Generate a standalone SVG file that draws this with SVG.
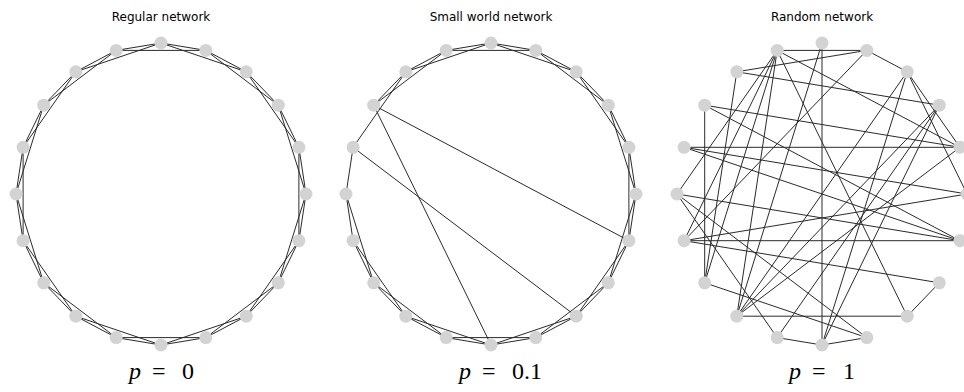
<svg xmlns="http://www.w3.org/2000/svg" width="964" height="392" viewBox="0 0 964 392">
<style>
.t{font-family:"DejaVu Sans",sans-serif;font-size:12px;fill:#000;text-anchor:middle}
.m{font-family:"Liberation Serif","DejaVu Serif",serif;font-size:24px;fill:#000}
.e line{stroke:#2a2a2a;stroke-width:1}
.n circle{fill:#d3d3d3}
</style>
<rect width="964" height="392" fill="#fff"/>
<text class="t" x="161" y="21">Regular network</text>
<text class="t" x="491" y="21">Small world network</text>
<text class="t" x="822" y="21">Random network</text>
<text class="m" y="379"><tspan x="129" font-style="italic">p</tspan><tspan x="152">=</tspan><tspan x="182">0</tspan></text>
<text class="m" y="379"><tspan x="459" font-style="italic">p</tspan><tspan x="482">=</tspan><tspan x="512">0.1</tspan></text>
<text class="m" y="379"><tspan x="789" font-style="italic">p</tspan><tspan x="812">=</tspan><tspan x="843">1</tspan></text>

<g id="connectors" class="e">
<g id="edges-regular">
<line x1="306" y1="194" x2="298.9" y2="147.3"/>
<line x1="298.9" y1="147.3" x2="278.3" y2="105.2"/>
<line x1="278.3" y1="105.2" x2="246.2" y2="71.8"/>
<line x1="246.2" y1="71.8" x2="205.8" y2="50.4"/>
<line x1="205.8" y1="50.4" x2="161" y2="43"/>
<line x1="161" y1="43" x2="116.2" y2="50.4"/>
<line x1="116.2" y1="50.4" x2="75.8" y2="71.8"/>
<line x1="75.8" y1="71.8" x2="43.7" y2="105.2"/>
<line x1="43.7" y1="105.2" x2="23.1" y2="147.3"/>
<line x1="23.1" y1="147.3" x2="16" y2="194"/>
<line x1="16" y1="194" x2="23.1" y2="240.7"/>
<line x1="23.1" y1="240.7" x2="43.7" y2="282.8"/>
<line x1="43.7" y1="282.8" x2="75.8" y2="316.2"/>
<line x1="75.8" y1="316.2" x2="116.2" y2="337.6"/>
<line x1="116.2" y1="337.6" x2="161" y2="345"/>
<line x1="161" y1="345" x2="205.8" y2="337.6"/>
<line x1="205.8" y1="337.6" x2="246.2" y2="316.2"/>
<line x1="246.2" y1="316.2" x2="278.3" y2="282.8"/>
<line x1="278.3" y1="282.8" x2="298.9" y2="240.7"/>
<line x1="298.9" y1="240.7" x2="306" y2="194"/>
<line x1="306" y1="194" x2="278.3" y2="105.2"/>
<line x1="298.9" y1="147.3" x2="246.2" y2="71.8"/>
<line x1="278.3" y1="105.2" x2="205.8" y2="50.4"/>
<line x1="246.2" y1="71.8" x2="161" y2="43"/>
<line x1="205.8" y1="50.4" x2="116.2" y2="50.4"/>
<line x1="161" y1="43" x2="75.8" y2="71.8"/>
<line x1="116.2" y1="50.4" x2="43.7" y2="105.2"/>
<line x1="75.8" y1="71.8" x2="23.1" y2="147.3"/>
<line x1="43.7" y1="105.2" x2="16" y2="194"/>
<line x1="23.1" y1="147.3" x2="23.1" y2="240.7"/>
<line x1="16" y1="194" x2="43.7" y2="282.8"/>
<line x1="23.1" y1="240.7" x2="75.8" y2="316.2"/>
<line x1="43.7" y1="282.8" x2="116.2" y2="337.6"/>
<line x1="75.8" y1="316.2" x2="161" y2="345"/>
<line x1="116.2" y1="337.6" x2="205.8" y2="337.6"/>
<line x1="161" y1="345" x2="246.2" y2="316.2"/>
<line x1="205.8" y1="337.6" x2="278.3" y2="282.8"/>
<line x1="246.2" y1="316.2" x2="298.9" y2="240.7"/>
<line x1="278.3" y1="282.8" x2="306" y2="194"/>
<line x1="298.9" y1="240.7" x2="298.9" y2="147.3"/>
</g>
<g id="edges-smallworld" transform="translate(330,0)">
<line x1="306" y1="194" x2="298.9" y2="147.3"/>
<line x1="298.9" y1="147.3" x2="278.3" y2="105.2"/>
<line x1="278.3" y1="105.2" x2="246.2" y2="71.8"/>
<line x1="246.2" y1="71.8" x2="205.8" y2="50.4"/>
<line x1="205.8" y1="50.4" x2="161" y2="43"/>
<line x1="161" y1="43" x2="116.2" y2="50.4"/>
<line x1="116.2" y1="50.4" x2="75.8" y2="71.8"/>
<line x1="75.8" y1="71.8" x2="43.7" y2="105.2"/>
<line x1="23.1" y1="147.3" x2="16" y2="194"/>
<line x1="16" y1="194" x2="23.1" y2="240.7"/>
<line x1="23.1" y1="240.7" x2="43.7" y2="282.8"/>
<line x1="43.7" y1="282.8" x2="75.8" y2="316.2"/>
<line x1="75.8" y1="316.2" x2="116.2" y2="337.6"/>
<line x1="116.2" y1="337.6" x2="161" y2="345"/>
<line x1="161" y1="345" x2="205.8" y2="337.6"/>
<line x1="205.8" y1="337.6" x2="246.2" y2="316.2"/>
<line x1="246.2" y1="316.2" x2="278.3" y2="282.8"/>
<line x1="278.3" y1="282.8" x2="298.9" y2="240.7"/>
<line x1="298.9" y1="240.7" x2="306" y2="194"/>
<line x1="306" y1="194" x2="278.3" y2="105.2"/>
<line x1="298.9" y1="147.3" x2="246.2" y2="71.8"/>
<line x1="278.3" y1="105.2" x2="205.8" y2="50.4"/>
<line x1="246.2" y1="71.8" x2="161" y2="43"/>
<line x1="205.8" y1="50.4" x2="116.2" y2="50.4"/>
<line x1="161" y1="43" x2="75.8" y2="71.8"/>
<line x1="116.2" y1="50.4" x2="43.7" y2="105.2"/>
<line x1="75.8" y1="71.8" x2="23.1" y2="147.3"/>
<line x1="16" y1="194" x2="43.7" y2="282.8"/>
<line x1="23.1" y1="240.7" x2="75.8" y2="316.2"/>
<line x1="43.7" y1="282.8" x2="116.2" y2="337.6"/>
<line x1="75.8" y1="316.2" x2="161" y2="345"/>
<line x1="116.2" y1="337.6" x2="205.8" y2="337.6"/>
<line x1="161" y1="345" x2="246.2" y2="316.2"/>
<line x1="205.8" y1="337.6" x2="278.3" y2="282.8"/>
<line x1="246.2" y1="316.2" x2="298.9" y2="240.7"/>
<line x1="278.3" y1="282.8" x2="306" y2="194"/>
<line x1="298.9" y1="240.7" x2="298.9" y2="147.3"/>
<line x1="43.7" y1="105.2" x2="298.9" y2="240.7"/>
<line x1="43.7" y1="105.2" x2="161" y2="345"/>
<line x1="23.1" y1="147.3" x2="246.2" y2="316.2"/>
</g>
<g id="edges-random" transform="translate(661,0)">
<line x1="161" y1="43" x2="161" y2="345"/>
<line x1="23.1" y1="147.3" x2="298.9" y2="147.3"/>
<line x1="23.1" y1="240.7" x2="298.9" y2="240.7"/>
<line x1="43.7" y1="105.2" x2="43.7" y2="282.8"/>
<line x1="75.8" y1="316.2" x2="246.2" y2="316.2"/>
<line x1="116.2" y1="50.4" x2="205.8" y2="50.4"/>
<line x1="205.8" y1="50.4" x2="246.2" y2="71.8"/>
<line x1="161" y1="345" x2="205.8" y2="337.6"/>
<line x1="246.2" y1="316.2" x2="278.3" y2="282.8"/>
<line x1="116.2" y1="337.6" x2="161" y2="345"/>
<line x1="205.8" y1="50.4" x2="75.8" y2="71.8"/>
<line x1="75.8" y1="71.8" x2="278.3" y2="105.2"/>
<line x1="43.7" y1="105.2" x2="298.9" y2="147.3"/>
<line x1="205.8" y1="50.4" x2="23.1" y2="240.7"/>
<line x1="116.2" y1="50.4" x2="16" y2="194"/>
<line x1="116.2" y1="50.4" x2="246.2" y2="316.2"/>
<line x1="23.1" y1="240.7" x2="278.3" y2="282.8"/>
<line x1="16" y1="194" x2="205.8" y2="337.6"/>
<line x1="43.7" y1="105.2" x2="298.9" y2="240.7"/>
<line x1="23.1" y1="147.3" x2="298.9" y2="240.7"/>
<line x1="23.1" y1="147.3" x2="306" y2="194"/>
<line x1="23.1" y1="240.7" x2="306" y2="194"/>
<line x1="16" y1="194" x2="298.9" y2="240.7"/>
<line x1="75.8" y1="71.8" x2="43.7" y2="282.8"/>
<line x1="16" y1="194" x2="116.2" y2="337.6"/>
<line x1="75.8" y1="316.2" x2="116.2" y2="50.4"/>
<line x1="75.8" y1="316.2" x2="161" y2="43"/>
<line x1="75.8" y1="316.2" x2="298.9" y2="147.3"/>
<line x1="246.2" y1="71.8" x2="161" y2="345"/>
<line x1="246.2" y1="71.8" x2="298.9" y2="147.3"/>
<line x1="246.2" y1="71.8" x2="306" y2="194"/>
<line x1="278.3" y1="105.2" x2="116.2" y2="337.6"/>
<line x1="278.3" y1="105.2" x2="161" y2="345"/>
<line x1="116.2" y1="50.4" x2="298.9" y2="147.3"/>
<line x1="116.2" y1="50.4" x2="43.7" y2="282.8"/>
<line x1="116.2" y1="50.4" x2="23.1" y2="240.7"/>
<line x1="43.7" y1="282.8" x2="205.8" y2="337.6"/>
<line x1="75.8" y1="316.2" x2="278.3" y2="105.2"/>
<line x1="75.8" y1="316.2" x2="246.2" y2="71.8"/>
</g>
</g>

<g id="nodes-regular" class="n">
<g id="r0"><circle cx="306" cy="194" r="6.5"/></g>
<g id="r1"><circle cx="298.9" cy="147.3" r="6.5"/></g>
<g id="r2"><circle cx="278.3" cy="105.2" r="6.5"/></g>
<g id="r3"><circle cx="246.2" cy="71.8" r="6.5"/></g>
<g id="r4"><circle cx="205.8" cy="50.4" r="6.5"/></g>
<g id="r5"><circle cx="161" cy="43" r="6.5"/></g>
<g id="r6"><circle cx="116.2" cy="50.4" r="6.5"/></g>
<g id="r7"><circle cx="75.8" cy="71.8" r="6.5"/></g>
<g id="r8"><circle cx="43.7" cy="105.2" r="6.5"/></g>
<g id="r9"><circle cx="23.1" cy="147.3" r="6.5"/></g>
<g id="r10"><circle cx="16" cy="194" r="6.5"/></g>
<g id="r11"><circle cx="23.1" cy="240.7" r="6.5"/></g>
<g id="r12"><circle cx="43.7" cy="282.8" r="6.5"/></g>
<g id="r13"><circle cx="75.8" cy="316.2" r="6.5"/></g>
<g id="r14"><circle cx="116.2" cy="337.6" r="6.5"/></g>
<g id="r15"><circle cx="161" cy="345" r="6.5"/></g>
<g id="r16"><circle cx="205.8" cy="337.6" r="6.5"/></g>
<g id="r17"><circle cx="246.2" cy="316.2" r="6.5"/></g>
<g id="r18"><circle cx="278.3" cy="282.8" r="6.5"/></g>
<g id="r19"><circle cx="298.9" cy="240.7" r="6.5"/></g>
</g>
<g id="nodes-smallworld" class="n" transform="translate(330,0)">
<g id="s0"><circle cx="306" cy="194" r="6.5"/></g>
<g id="s1"><circle cx="298.9" cy="147.3" r="6.5"/></g>
<g id="s2"><circle cx="278.3" cy="105.2" r="6.5"/></g>
<g id="s3"><circle cx="246.2" cy="71.8" r="6.5"/></g>
<g id="s4"><circle cx="205.8" cy="50.4" r="6.5"/></g>
<g id="s5"><circle cx="161" cy="43" r="6.5"/></g>
<g id="s6"><circle cx="116.2" cy="50.4" r="6.5"/></g>
<g id="s7"><circle cx="75.8" cy="71.8" r="6.5"/></g>
<g id="s8"><circle cx="43.7" cy="105.2" r="6.5"/></g>
<g id="s9"><circle cx="23.1" cy="147.3" r="6.5"/></g>
<g id="s10"><circle cx="16" cy="194" r="6.5"/></g>
<g id="s11"><circle cx="23.1" cy="240.7" r="6.5"/></g>
<g id="s12"><circle cx="43.7" cy="282.8" r="6.5"/></g>
<g id="s13"><circle cx="75.8" cy="316.2" r="6.5"/></g>
<g id="s14"><circle cx="116.2" cy="337.6" r="6.5"/></g>
<g id="s15"><circle cx="161" cy="345" r="6.5"/></g>
<g id="s16"><circle cx="205.8" cy="337.6" r="6.5"/></g>
<g id="s17"><circle cx="246.2" cy="316.2" r="6.5"/></g>
<g id="s18"><circle cx="278.3" cy="282.8" r="6.5"/></g>
<g id="s19"><circle cx="298.9" cy="240.7" r="6.5"/></g>
</g>
<g id="nodes-random" class="n" transform="translate(661,0)">
<g id="q0"><circle cx="306" cy="194" r="6.5"/></g>
<g id="q1"><circle cx="298.9" cy="147.3" r="6.5"/></g>
<g id="q2"><circle cx="278.3" cy="105.2" r="6.5"/></g>
<g id="q3"><circle cx="246.2" cy="71.8" r="6.5"/></g>
<g id="q4"><circle cx="205.8" cy="50.4" r="6.5"/></g>
<g id="q5"><circle cx="161" cy="43" r="6.5"/></g>
<g id="q6"><circle cx="116.2" cy="50.4" r="6.5"/></g>
<g id="q7"><circle cx="75.8" cy="71.8" r="6.5"/></g>
<g id="q8"><circle cx="43.7" cy="105.2" r="6.5"/></g>
<g id="q9"><circle cx="23.1" cy="147.3" r="6.5"/></g>
<g id="q10"><circle cx="16" cy="194" r="6.5"/></g>
<g id="q11"><circle cx="23.1" cy="240.7" r="6.5"/></g>
<g id="q12"><circle cx="43.7" cy="282.8" r="6.5"/></g>
<g id="q13"><circle cx="75.8" cy="316.2" r="6.5"/></g>
<g id="q14"><circle cx="116.2" cy="337.6" r="6.5"/></g>
<g id="q15"><circle cx="161" cy="345" r="6.5"/></g>
<g id="q16"><circle cx="205.8" cy="337.6" r="6.5"/></g>
<g id="q17"><circle cx="246.2" cy="316.2" r="6.5"/></g>
<g id="q18"><circle cx="278.3" cy="282.8" r="6.5"/></g>
<g id="q19"><circle cx="298.9" cy="240.7" r="6.5"/></g>
</g>
</svg>
